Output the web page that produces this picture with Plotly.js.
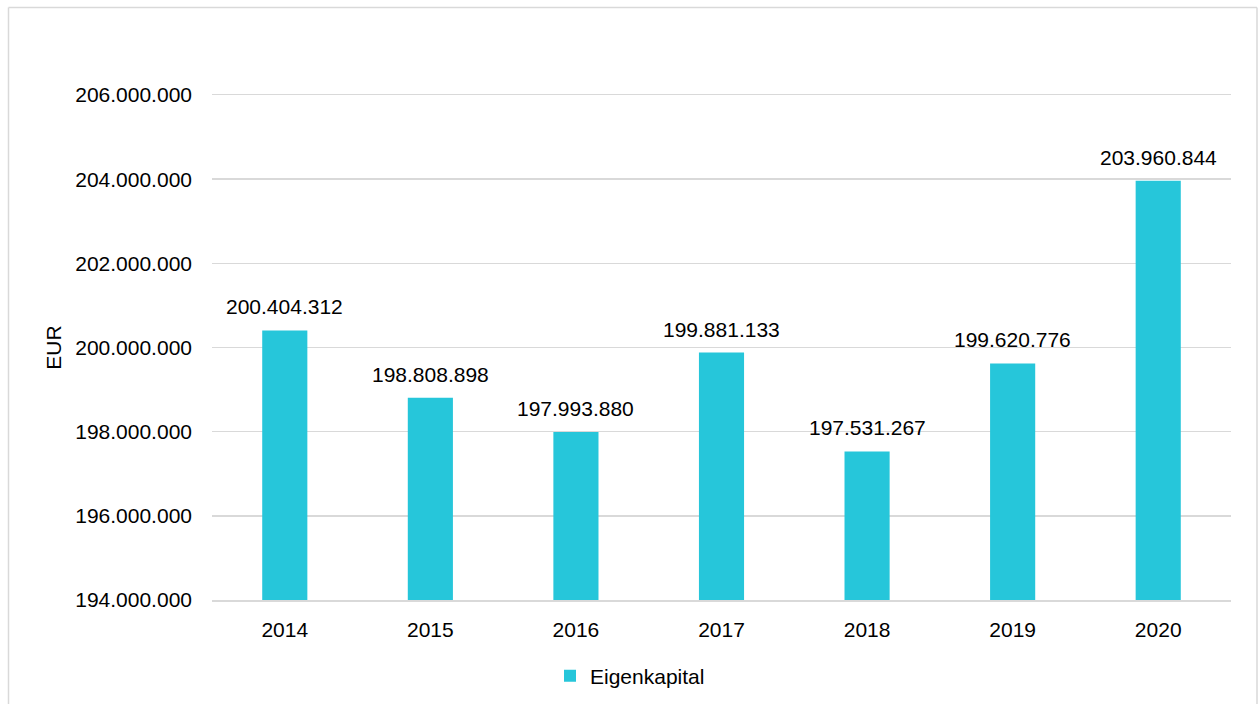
<!DOCTYPE html>
<html><head><meta charset="utf-8">
<script src="https://cdn.plot.ly/plotly-3.0.1.min.js"></script>
<style>html,body{margin:0;padding:0;background:#fff;}#chart{width:1260px;height:704px;}</style>
</head><body><div id="chart"></div>
<script>
const years = ['2014','2015','2016','2017','2018','2019','2020'];
const eigenkapital = [200404312, 198808898, 197993880, 199881133, 197531267, 199620776, 203960844];
const seriesName = 'Eigenkapital';
const yTicks = [194000000, 196000000, 198000000, 200000000, 202000000, 204000000, 206000000];

const L = 212, R = 29, T = 95, B = 104, W = 1260, H = 704;
const pw = W - L - R, ph = H - T - B;
const px = v => (v - L) / pw;
const py = v => (H - B - v) / ph;
const FONT = 'Liberation Sans, Arial, sans-serif';
const fmt = v => Math.round(v).toString().replace(/\B(?=(\d{3})+(?!\d))/g, '.');

const trace = {
  type: 'bar', x: years, y: eigenkapital, name: seriesName,
  marker: {color: '#26C6DA'},
  showlegend: true
};
const labels = years.map((yr, i) => ({
  x: i, y: eigenkapital[i], xref: 'x', yref: 'y', text: fmt(eigenkapital[i]),
  showarrow: false, yanchor: 'bottom', yshift: 10,
  font: {family: FONT, size: 21, color: '#000'}
}));
const layout = {
  width: W, height: H,
  margin: {l: L, r: R, t: T, b: B, autoexpand: false},
  paper_bgcolor: '#fff', plot_bgcolor: '#fff',
  separators: ',.',
  font: {family: FONT, size: 21, color: '#000'},
  bargap: 0.69,
  xaxis: {type: 'category', range: [-0.5, years.length - 0.5], showgrid: false, showline: true, mirror: true,
          linecolor: '#d9d9d9', linewidth: 1.5, ticks: '', ticklabelstandoff: 10, tickfont: {size: 21}},
  yaxis: {range: [194000000, 206000000], tickvals: yTicks, tickformat: ',.0f',
          showgrid: true, gridcolor: '#d9d9d9', gridwidth: 1.5, zeroline: false, showline: false,
          ticks: '', ticklabelstandoff: 19, tickfont: {size: 21},
          title: {text: 'EUR', standoff: 7, font: {size: 21}}},
  showlegend: true,
  legend: {orientation: 'h', x: px(550), xanchor: 'left', y: py(676), yanchor: 'middle',
           font: {size: 21}, itemwidth: 30},
  annotations: labels,
  shapes: [
    {type: 'line', xref: 'paper', yref: 'paper', x0: px(8.5), x1: px(8.5), y0: py(7.5), y1: py(720),
     line: {color: '#d9d9d9', width: 1.5}},
    {type: 'line', xref: 'paper', yref: 'paper', x0: px(8.5), x1: px(1257), y0: py(7.5), y1: py(7.5),
     line: {color: '#d9d9d9', width: 1.5}},
    {type: 'line', xref: 'paper', yref: 'paper', x0: px(1257), x1: px(1257), y0: py(7.5), y1: py(720),
     line: {color: '#d9d9d9', width: 1.5}}
  ]
};
Plotly.newPlot('chart', [trace], layout, {displayModeBar: false, staticPlot: true});
</script></body></html>
